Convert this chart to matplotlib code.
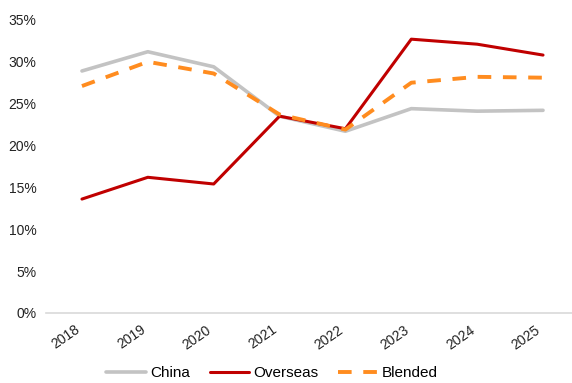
import matplotlib
matplotlib.use("Agg")
import matplotlib.pyplot as plt
from matplotlib.ticker import PercentFormatter

plt.rcParams['font.family'] = ['Liberation Sans', 'DejaVu Sans']

years = ['2018', '2019', '2020', '2021', '2022', '2023', '2024', '2025']
china = [28.9, 31.2, 29.4, 23.5, 21.7, 24.4, 24.1, 24.2]
overseas = [13.6, 16.2, 15.4, 23.5, 22.0, 32.7, 32.1, 30.8]
blended = [27.1, 30.0, 28.6, 23.7, 21.9, 27.5, 28.2, 28.1]

fig = plt.figure(figsize=(5.72, 3.83), dpi=100)
ax = fig.add_axes([46 / 572, 0.183, 1 - 46 / 572, 0.765])

x = range(len(years))
ax.plot(x, china, color='#C3C3C3', lw=2.6, label='China', solid_capstyle='round')
ax.plot(x, overseas, color='#C00000', lw=2.2, label='Overseas', solid_capstyle='round')
ax.plot(x, blended, color='#FF8C1F', lw=2.8, ls=(0, (3.5, 3)), label='Blended')

ax.set_ylim(0, 35)
ax.set_yticks(range(0, 36, 5))
ax.yaxis.set_major_formatter(PercentFormatter(decimals=0))
ax.set_xlim(-0.546, 7.44)
ax.set_xticks(list(x))
ax.set_xticklabels(years, rotation=35, ha='right')

for s in ['top', 'right', 'left']:
    ax.spines[s].set_visible(False)
ax.spines['bottom'].set_color('#D9D9D9')
ax.spines['bottom'].set_linewidth(1.2)
ax.tick_params(axis='both', length=0, labelsize=10, colors='#222222')
ax.tick_params(axis='y', pad=7)
ax.tick_params(axis='x', pad=7)

fig.legend(loc='center', bbox_to_anchor=(272 / 572, 1 - 373 / 383), ncol=3,
           frameon=False, fontsize=11, handlelength=2.6, columnspacing=1.3,
           handletextpad=0.25)

fig.savefig('out.png', dpi=100)
